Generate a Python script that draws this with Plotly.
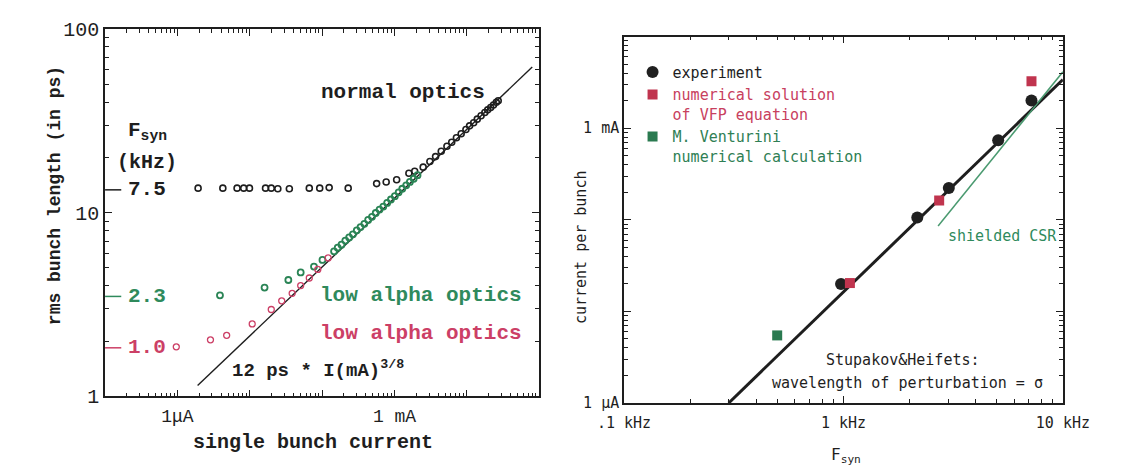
import plotly.graph_objects as go

W, H = 1128, 475

# ---------------- Left panel data (current in mA, bunch length in ps) ----------------
normal_I = [0.00193, 0.00424, 0.00667, 0.00824, 0.00989, 0.0165, 0.0198, 0.0244, 0.0352,
            0.0664, 0.0925, 0.125, 0.229, 0.566, 0.767, 1.07, 1.58, 1.90, 2.49, 3.08,
            3.69, 4.42, 5.30, 6.17, 7.17, 8.34, 9.70, 10.9, 12.4, 13.9, 15.7, 17.7,
            19.4, 21.3, 23.3, 25.5, 27.1]
normal_sigma = [13.6, 13.6, 13.6, 13.6, 13.6, 13.6, 13.6, 13.5, 13.5,
                13.6, 13.6, 13.7, 13.6, 14.4, 14.7, 15.1, 16.4, 16.8, 17.7, 19.0,
                20.2, 21.6, 23.0, 24.2, 25.6, 26.9, 28.4, 29.7, 30.9, 32.3, 33.7, 35.1,
                36.3, 37.4, 38.6, 39.9, 40.7]

low23_I = [0.00387, 0.0160, 0.0341, 0.0505, 0.0771, 0.101, 0.146, 0.164, 0.185, 0.209,
           0.236, 0.266, 0.301, 0.339, 0.383, 0.432, 0.488, 0.550, 0.621, 0.700, 0.791,
           0.892, 1.01, 1.14, 1.28, 1.45, 1.63, 1.84, 2.08]
low23_sigma = [3.55, 3.91, 4.30, 4.73, 5.09, 5.53, 6.16, 6.45, 6.70, 7.05,
               7.33, 7.62, 8.02, 8.35, 8.70, 9.13, 9.50, 9.96, 10.4, 10.8, 11.3,
               11.8, 12.3, 12.9, 13.5, 14.1, 14.7, 15.3, 16.0]

low10_I = [0.000964, 0.00286, 0.00479, 0.0108, 0.0198, 0.0276, 0.0385, 0.0505, 0.0664,
           0.0871, 0.121]
low10_sigma = [1.86, 2.03, 2.15, 2.48, 2.97, 3.31, 3.64, 4.01, 4.41, 4.91, 5.67]

fit_I = [0.0019, 80.0]          # 12 ps * I(mA)^(3/8)
fit_sigma = [1.145, 62.1]

left_xticks = [1e-4, 1e-3, 1e-2, 1e-1, 1, 10, 100]
left_xtext = ["", "1μA", "", "", "1 mA", "", ""]
left_yticks = [1, 10, 100]
left_ytext = ["1", "10", "100"]

# ---------------- Right panel data (F_syn in kHz, current in mA) ----------------
exp_F = [0.975, 2.17, 3.02, 5.07, 7.19]
exp_I = [0.0199, 0.106, 0.223, 0.738, 2.01]

vfp_F = [1.07, 2.73, 7.19]
vfp_I = [0.0204, 0.163, 3.25]

vent_F = [0.499]
vent_I = [0.00547]

sh_F = [0.30, 10.0]      # Stupakov & Heifets threshold
sh_I = [0.001, 3.4]

csr_F = [2.70, 10.0]     # shielded CSR
csr_I = [0.0856, 4.13]

right_xticks = [0.1, 1, 10]
right_xtext = [".1 kHz", "1 kHz", "10 kHz"]
right_yticks = [0.001, 0.01, 0.1, 1, 10]
right_ytext = ["1 μA", "", "", "1 mA", ""]

BLACK = "#1e1e1e"
GREEN = "#2f8a5c"
RED = "#cc3f66"
LFONT = "Liberation Mono"
RFONT = "DejaVu Sans Mono"


def px(x):
    return x / W


def py(y):
    return 1 - y / H


def minor_vals(lo, hi):
    vals = []
    for e in range(lo, hi):
        for m in range(2, 10):
            vals.append(m * 10 ** e)
    return vals


fig = go.Figure()

# left traces
fig.add_trace(go.Scatter(x=fit_I, y=fit_sigma, mode="lines", line=dict(color=BLACK, width=1.4),
                         xaxis="x", yaxis="y", showlegend=False))
fig.add_trace(go.Scatter(x=normal_I, y=normal_sigma, mode="markers",
                         marker=dict(symbol="circle-open", size=6, color=BLACK, line=dict(width=1.6)),
                         xaxis="x", yaxis="y", showlegend=False))
fig.add_trace(go.Scatter(x=low23_I, y=low23_sigma, mode="markers",
                         marker=dict(symbol="circle-open", size=6, color="#2a8455", line=dict(width=1.8)),
                         xaxis="x", yaxis="y", showlegend=False))
fig.add_trace(go.Scatter(x=low10_I, y=low10_sigma, mode="markers",
                         marker=dict(symbol="circle-open", size=6, color=RED, line=dict(width=1.3)),
                         xaxis="x", yaxis="y", showlegend=False))

# right traces
fig.add_trace(go.Scatter(x=sh_F, y=sh_I, mode="lines", line=dict(color=BLACK, width=3),
                         xaxis="x2", yaxis="y2", showlegend=False))
fig.add_trace(go.Scatter(x=csr_F, y=csr_I, mode="lines", line=dict(color="#4a9a70", width=1.5),
                         xaxis="x2", yaxis="y2", showlegend=False))
fig.add_trace(go.Scatter(x=exp_F, y=exp_I, mode="markers",
                         marker=dict(symbol="circle", size=12, color="#202020"),
                         xaxis="x2", yaxis="y2",
                         name="<span style='color:#1e1e1e'>experiment</span>"))
fig.add_trace(go.Scatter(x=vfp_F, y=vfp_I, mode="markers",
                         marker=dict(symbol="square", size=10, color="#c0344e"),
                         xaxis="x2", yaxis="y2",
                         name="<span style='color:#c8405e'>numerical solution<br>of VFP equation</span>"))
fig.add_trace(go.Scatter(x=vent_F, y=vent_I, mode="markers",
                         marker=dict(symbol="square", size=10, color="#2a7a50"),
                         xaxis="x2", yaxis="y2",
                         name="<span style='color:#2f7f55'>M. Venturini<br>numerical calculation</span>"))

axis_common = dict(type="log", showline=True, linecolor=BLACK, linewidth=1.5, mirror="ticks",
                   ticks="inside", tickcolor=BLACK, ticklen=7, tickwidth=1.3,
                   showgrid=False, zeroline=False, tickmode="array")

fig.update_layout(
    width=W, height=H, margin=dict(l=0, r=0, t=0, b=0),
    paper_bgcolor="white", plot_bgcolor="white",
    showlegend=True,
    legend=dict(x=px(636), y=py(48), xanchor="left", yanchor="top",
                font=dict(family=RFONT, size=15, color=BLACK),
                bgcolor="rgba(0,0,0,0)", valign="top", tracegroupgap=2, itemwidth=30),
    xaxis=dict(axis_common, domain=[px(82), px(538)], range=[-4, 2],
               tickvals=left_xticks, ticktext=left_xtext, ticklabelstandoff=2,
               tickfont=dict(family=LFONT, size=18, color=BLACK),
               minor=dict(tickvals=minor_vals(-4, 2), ticks="inside", ticklen=4,
                          tickcolor=BLACK, tickwidth=1)),
    yaxis=dict(axis_common, domain=[py(406), py(20)], range=[0, 2],
               tickvals=left_yticks, ticktext=left_ytext,
               tickfont=dict(family=LFONT, size=20, color=BLACK),
               minor=dict(tickvals=minor_vals(0, 2), ticks="inside", ticklen=4,
                          tickcolor=BLACK, tickwidth=1)),
    xaxis2=dict(axis_common, domain=[px(627), px(1088)], range=[-1, 1], anchor="y2",
                tickvals=right_xticks, ticktext=right_xtext, ticklabelstandoff=5,
                tickfont=dict(family=RFONT, size=15, color=BLACK),
                minor=dict(tickvals=minor_vals(-1, 1), ticks="inside", ticklen=4,
                           tickcolor=BLACK, tickwidth=1)),
    yaxis2=dict(axis_common, domain=[py(413), py(28)], range=[-3, 1], anchor="x2",
                tickvals=right_yticks, ticktext=right_ytext,
                tickfont=dict(family=RFONT, size=15, color=BLACK),
                minor=dict(tickvals=minor_vals(-3, 1), ticks="inside", ticklen=4,
                           tickcolor=BLACK, tickwidth=1)),
)


def note(text, x, y, size, color=BLACK, family=LFONT, xanchor="center", angle=0):
    fig.add_annotation(text=text, x=px(x), y=py(y), xref="paper", yref="paper",
                       showarrow=False, xanchor=xanchor, yanchor="middle", textangle=angle,
                       font=dict(family=family, size=size, color=color))


# left panel texts
note("<b>normal optics</b>", 395, 87, 21)
note("<b>F<sub>syn</sub></b>", 127, 128, 21)
note("<b>(kHz)</b>", 126, 160, 20)
note("<b>7.5</b>", 104, 189, 21, xanchor="left")
note("<b>2.3</b>", 104, 301, 21, GREEN, xanchor="left")
note("<b>1.0</b>", 104, 355, 21, RED, xanchor="left")
note("<b>low alpha optics</b>", 414, 300, 21, GREEN)
note("<b>low alpha optics</b>", 414, 340, 21, RED)
note("<b>12 ps * I(mA)<sup>3/8</sup></b>", 213, 378, 19, xanchor="left")
note("<b>single bunch current</b>", 300, 455, 20)
note("<b>rms bunch length (in ps)</b>", 29, 195, 18, angle=-90)

for yy, col in [(189, BLACK), (301, GREEN), (355, RED)]:
    fig.add_shape(type="line", xref="paper", yref="paper", x0=px(82), x1=px(99),
                  y0=py(yy), y1=py(yy), line=dict(color=col, width=1.5))

# right panel texts
note("shielded CSR", 965, 238, 15, GREEN, RFONT, xanchor="left")
note("Stupakov&Heifets:", 920, 368, 15, BLACK, RFONT)
note("wavelength of perturbation = σ", 925, 392, 15, BLACK, RFONT)
note("current per bunch", 582, 249, 15, BLACK, RFONT, angle=-90)
note("F<sub>syn</sub>", 860, 468, 16, BLACK, RFONT)

fig.write_html("out.html")
